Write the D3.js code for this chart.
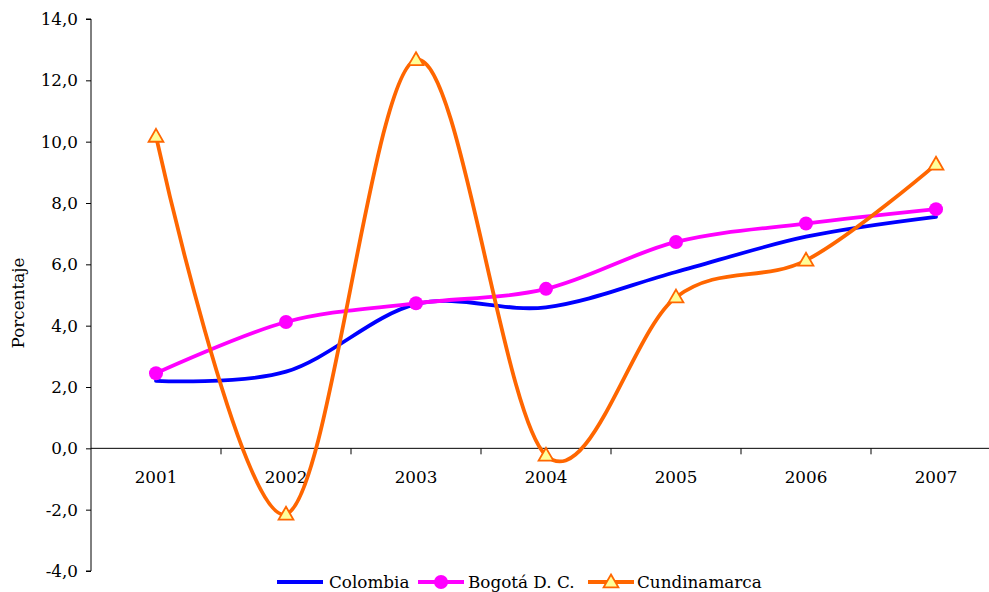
<!DOCTYPE html>
<html>
<head>
<meta charset="utf-8">
<script src="https://cdn.jsdelivr.net/npm/d3@7"></script>
<style>
  html, body { margin: 0; padding: 0; background: #fff; }
  svg { display: block; }
  text { font-family: "DejaVu Serif", serif; fill: #000; }
</style>
</head>
<body>
<script>
const years = ["2001", "2002", "2003", "2004", "2005", "2006", "2007"];
const colombia = [2.2, 2.5, 4.7, 4.6, 5.75, 6.9, 7.55];
const bogota = [2.45, 4.12, 4.73, 5.2, 6.73, 7.33, 7.8];
const cundinamarca = [10.17, -2.15, 12.67, -0.23, 4.93, 6.13, 9.26];
const yTicks = [-4, -2, 0, 2, 4, 6, 8, 10, 12, 14];
const seriesNames = ["Colombia", "Bogotá D. C.", "Cundinamarca"];
const yLabel = "Porcentaje";

const W = 989, H = 592;
const FS = "16.8px";
const svg = d3.select("body").append("svg").attr("width", W).attr("height", H);

const x = d3.scaleBand().domain(years).range([91, 1001]);
const y = d3.scaleLinear().domain([-4, 14]).range([571, 19]);
const cx = d => x(d) + x.bandwidth() / 2;

// Y axis
const yAxis = d3.axisLeft(y).tickValues(yTicks).tickSize(5).tickPadding(8)
  .tickFormat(d => d.toFixed(1).replace(".", ","));
const gy = svg.append("g").attr("transform", "translate(91,0)").call(yAxis);
gy.select(".domain").attr("stroke", "#000").attr("d", `M-5,${y(14)}H0V${y(-4)}H-5`);
gy.selectAll(".tick line").attr("stroke", "#000");
gy.selectAll(".tick text").style("font-size", FS).style("font-family", "DejaVu Serif, serif");

// X axis at zero
const gx = svg.append("g").attr("transform", `translate(0,${y(0)})`);
gx.append("line").attr("x1", 91).attr("x2", W).attr("y1", 0).attr("y2", 0).attr("stroke", "#000");
gx.selectAll("line.tk").data(years.slice(1)).join("line").attr("class", "tk")
  .attr("x1", d => x(d)).attr("x2", d => x(d)).attr("y1", 0).attr("y2", 6).attr("stroke", "#000");
gx.selectAll("text").data(years).join("text")
  .attr("x", d => cx(d)).attr("y", 35).attr("text-anchor", "middle")
  .style("font-size", FS).text(d => d);

// Y label
svg.append("text").attr("transform", `translate(24,${(y(14) + y(-4)) / 2 + 8}) rotate(-90)`)
  .attr("text-anchor", "middle").style("font-size", FS).text(yLabel);

const line = d3.line().x((d, i) => cx(years[i])).y(d => y(d)).curve(d3.curveCardinal.tension(0));

const colors = ["#0000FF", "#FF00FF", "#FF6600"];
const data = [colombia, bogota, cundinamarca];

data.forEach((s, k) => {
  svg.append("path").datum(s).attr("d", line).attr("fill", "none")
    .attr("stroke", colors[k]).attr("stroke-width", 3.8).attr("stroke-linejoin", "round").attr("stroke-linecap", "round");
});

// markers
const tri = d3.symbol().type(d3.symbolTriangle).size(95);
svg.selectAll("circle.b").data(bogota).join("circle").attr("class", "b")
  .attr("cx", (d, i) => cx(years[i])).attr("cy", d => y(d)).attr("r", 7).attr("fill", "#FF00FF");
svg.selectAll("path.c").data(cundinamarca).join("path").attr("class", "c")
  .attr("d", tri).attr("transform", (d, i) => `translate(${cx(years[i])},${y(d) + 1})`)
  .attr("fill", "#FFFF99").attr("stroke", "#FF6600").attr("stroke-width", 1.8);

// Legend
const lg = svg.append("g").attr("transform", "translate(0,582)");
const items = [
  { x0: 277, tx: 329 },
  { x0: 418, tx: 468 },
  { x0: 588, tx: 637 }
];
items.forEach((it, k) => {
  lg.append("line").attr("x1", it.x0).attr("x2", it.x0 + 46).attr("y1", 0).attr("y2", 0)
    .attr("stroke", colors[k]).attr("stroke-width", 3.8);
  if (k === 1) lg.append("circle").attr("cx", it.x0 + 23).attr("cy", 0).attr("r", 7).attr("fill", "#FF00FF");
  if (k === 2) lg.append("path").attr("d", tri).attr("transform", `translate(${it.x0 + 23},1)`)
    .attr("fill", "#FFFF99").attr("stroke", "#FF6600").attr("stroke-width", 1.8);
  lg.append("text").attr("x", it.tx).attr("y", 6).style("font-size", FS).text(seriesNames[k]);
});
</script>
</body>
</html>
